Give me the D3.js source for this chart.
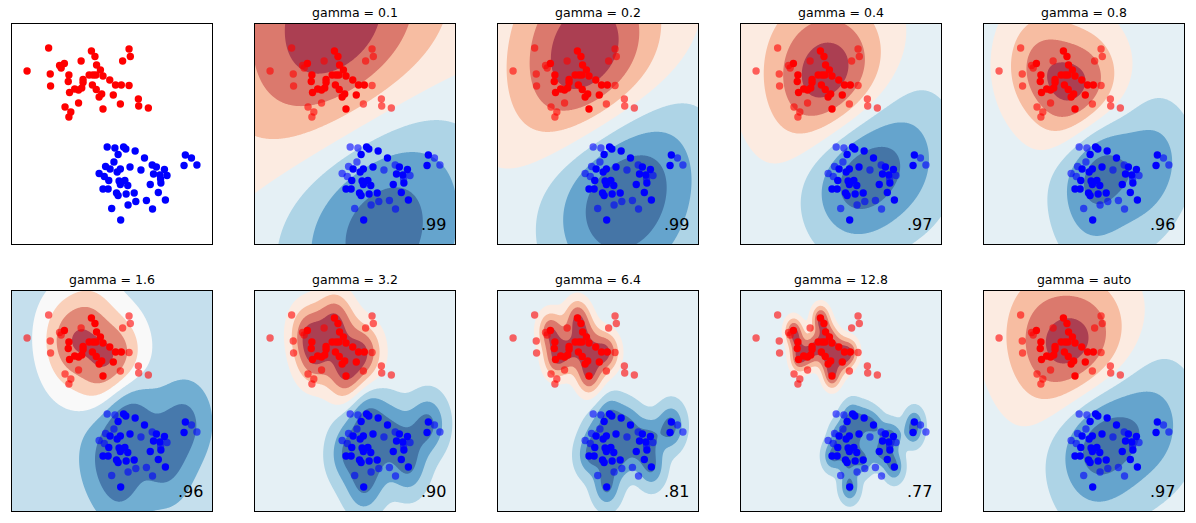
<!DOCTYPE html>
<html><head><meta charset="utf-8">
<script src="https://cdn.jsdelivr.net/npm/d3@7"></script>
<style>body{margin:0;background:#fff}svg{display:block}text{font-family:"DejaVu Sans",sans-serif}</style>
</head><body><svg id="c" width="1196" height="523"></svg>
<script>
// ---- data ----
const redX = [1.19,2.52,3.69,2.63,3.73,2.20,3.49,1.68,1.53,1.58,2.68,0.52,1.24,2.80,1.82,2.45,2.57,2.66,2.88,1.80,2.26,3.09,2.55,3.27,3.45,3.69,1.25,2.22,2.00,2.12,1.84,2.67,2.84,2.76,3.20,2.12,3.42,3.98,3.99,4.29,1.70,2.88,1.88,1.82,2.26];
const redY = [3.95,3.89,3.93,3.78,3.78,3.69,3.69,3.64,3.60,3.55,3.61,3.49,3.43,3.51,3.41,3.41,3.41,3.41,3.39,3.28,3.32,3.31,3.21,3.21,3.21,3.20,3.19,3.15,3.13,3.11,3.06,3.12,3.03,2.97,3.01,2.85,2.83,2.93,2.79,2.75,2.77,2.73,2.67,2.57,3.26];
const redTest = [1,0,1,0,1,1,1,0,1,1,0,1,1,0,0,0,0,0,0,0,0,0,0,0,0,1,1,0,0,0,0,0,0,0,0,1,1,1,1,1,1,0,1,1,0];
const blueX = [3.01,3.25,3.52,3.59,3.88,3.35,4.17,5.44,5.63,3.22,5.40,5.80,2.96,3.10,3.42,3.72,4.06,4.41,4.54,4.79,3.32,2.76,2.92,3.06,4.45,4.65,4.87,3.38,3.56,3.42,3.65,4.35,4.68,4.67,2.88,3.04,3.30,3.35,3.60,3.85,4.60,3.90,4.23,3.66,4.82,3.15,4.42,3.43];
const blueY = [1.97,1.95,1.97,1.93,1.89,1.82,1.75,1.81,1.75,1.67,1.60,1.61,1.58,1.53,1.53,1.57,1.51,1.61,1.57,1.52,1.47,1.44,1.38,1.30,1.43,1.41,1.40,1.29,1.30,1.22,1.20,1.22,1.25,1.33,1.13,1.13,1.05,1.00,1.03,1.05,1.06,0.88,0.90,0.81,0.91,0.74,0.73,0.51];
const blueTest = [1,1,0,0,0,0,0,0,1,1,0,1,1,0,0,0,1,1,0,0,0,1,1,0,0,0,1,0,0,0,0,0,0,1,0,0,0,0,0,0,0,1,1,1,0,1,1,0];
const gammas = [0.1,0.2,0.4,0.8,1.6,3.2,6.4,12.8,0.5];
const gammaLabels = ["0.1","0.2","0.4","0.8","1.6","3.2","6.4","12.8","auto"];
const scores = [".99",".99",".97",".96",".96",".90",".81",".77",".97"];
const rdbuStops = ["#67001f","#b2182b","#d6604d","#f4a582","#fddbc7","#f7f7f7","#d1e5f0","#92c5de","#4393c3","#2166ac","#053061"];

// ---- layout ----
const svg = d3.select("#c");
const PW = 202, PH = 222, colX = c => 11 + c*243, rowY = r => r === 0 ? 23 : 290;
const allX = redX.concat(blueX), allY = redY.concat(blueY);
const xMin = d3.min(allX) - .5, xMax = d3.max(allX) + .5;
const yMin = d3.min(allY) - .5, yMax = d3.max(allY) + .5;
const xs = d3.scaleLinear().domain([xMin, xMax]).range([0, PW]);
const ys = d3.scaleLinear().domain([yMin, yMax]).range([PH, 0]);
const rdbu = d3.scaleLinear().domain(rdbuStops.map((_, i) => i/10)).range(rdbuStops).interpolate(d3.interpolateRgb);
const blend = c => { const o = d3.rgb(c); return d3.rgb(o.r*.8+51, o.g*.8+51, o.b*.8+51).formatHex(); };

const pts = [];
redX.forEach((x,i)=>pts.push({x, y:redY[i], c:-1, test:redTest[i]}));
blueX.forEach((x,i)=>pts.push({x, y:blueY[i], c:1, test:blueTest[i]}));
const train = pts.filter(p=>!p.test);

// RBF SVM (C=1) trained on the training points
function trainSVM(g, C=1){
  const n = train.length, K = [];
  for (let i=0;i<n;i++){ K.push(new Float64Array(n)); for(let j=0;j<n;j++){const dx=train[i].x-train[j].x, dy=train[i].y-train[j].y; K[i][j]=Math.exp(-g*(dx*dx+dy*dy));}}
  const y = train.map(p=>p.c), a = new Float64Array(n), G = new Float64Array(n).fill(-1);
  for (let it=0; it<200000; it++){
    let gmax=-Infinity, gmin=Infinity, ii=-1, jj=-1;
    for (let t=0;t<n;t++){
      const v = -y[t]*G[t];
      const up = (y[t]===1 && a[t]<C) || (y[t]===-1 && a[t]>0);
      const low = (y[t]===-1 && a[t]<C) || (y[t]===1 && a[t]>0);
      if (up && v>gmax){gmax=v; ii=t;}
      if (low && v<gmin){gmin=v; jj=t;}
    }
    if (gmax-gmin < 1e-4) break;
    const i=ii, j=jj, Qij=y[i]*y[j]*K[i][j];
    const oi=a[i], oj=a[j];
    if (y[i]!==y[j]){
      let q=2+2*Qij; if(q<=0) q=1e-12;
      const delta=(-G[i]-G[j])/q, diff=a[i]-a[j];
      a[i]+=delta; a[j]+=delta;
      if(diff>0){ if(a[j]<0){a[j]=0;a[i]=diff;} } else { if(a[i]<0){a[i]=0;a[j]=-diff;} }
      if(diff>0){ if(a[i]>C){a[i]=C;a[j]=C-diff;} } else { if(a[j]>C){a[j]=C;a[i]=C+diff;} }
    } else {
      let q=2-2*Qij; if(q<=0) q=1e-12;
      const delta=(G[i]-G[j])/q, sum=a[i]+a[j];
      a[i]-=delta; a[j]+=delta;
      if(sum>C){ if(a[i]>C){a[i]=C;a[j]=sum-C;} } else { if(a[j]<0){a[j]=0;a[i]=sum;} }
      if(sum>C){ if(a[j]>C){a[j]=C;a[i]=sum-C;} } else { if(a[i]<0){a[i]=0;a[j]=sum;} }
    }
    const di=a[i]-oi, dj=a[j]-oj;
    for (let k=0;k<n;k++) G[k] += y[i]*y[k]*K[i][k]*di + y[j]*y[k]*K[j][k]*dj;
  }
  let ub=Infinity, lb=-Infinity, sf=0, nf=0;
  for (let i=0;i<n;i++){
    const yG=y[i]*G[i];
    if (a[i]>=C){ if(y[i]===-1) ub=Math.min(ub,yG); else lb=Math.max(lb,yG); }
    else if (a[i]<=0){ if(y[i]===1) ub=Math.min(ub,yG); else lb=Math.max(lb,yG); }
    else { nf++; sf+=yG; }
  }
  const rho = nf>0 ? sf/nf : (ub+lb)/2;
  const sv = [];
  for (let i=0;i<n;i++) if (a[i]>1e-9) sv.push({x:train[i].x, y:train[i].y, w:a[i]*y[i]});
  return (px,py)=>{ let s=-rho; for (const v of sv){const dx=px-v.x, dy=py-v.y; s+=v.w*Math.exp(-g*(dx*dx+dy*dy));} return s; };
}

// classic matplotlib MaxNLocator(8) contour levels
function pyFloorDiv(v, w){
  let mod = v % w; let div = (v - mod)/w;
  if (mod && ((w<0) !== (mod<0))) { mod += w; div -= 1; }
  let fl = Math.floor(div); if (div - fl > 0.5) fl += 1; return fl;
}
function mplLevels(vmin, vmax, nbins=8){
  const steps = [1,1.5,2,2.5,3,4,5,6,8,10];
  const scale = Math.pow(10, Math.floor(Math.log10((vmax-vmin)/nbins)));
  const raw = (vmax-vmin)/nbins/scale;
  let step = 1, bvmin = vmin, bvmax = vmax;
  for (const s of steps){
    if (s < raw) continue;
    step = s*scale;
    bvmin = step*pyFloorDiv(vmin, step);
    bvmax = bvmin + step*nbins;
    if (bvmax >= vmax) break;
  }
  const extra = pyFloorDiv(bvmax - vmax, step);
  return d3.range(nbins - extra + 1).map(k => k*step + bvmin);
}

const h = 0.02;
const nx = Math.floor((xMax-xMin)/h)+1, ny = Math.floor((yMax-yMin)/h)+1;

function drawPoints(g, alphaTest){
  const order = pts.filter(p=>!p.test).concat(pts.filter(p=>p.test));
  g.selectAll("circle").data(order).join("circle")
    .attr("cx", p=>xs(p.x)).attr("cy", p=>ys(p.y)).attr("r", 3.7)
    .attr("fill", p=>p.c===1 ? "#0000ff" : "#ff0000")
    .attr("fill-opacity", p=>p.test ? alphaTest : 1);
}

function panel(idx){
  const col = idx % 5, row = Math.floor(idx/5);
  const g = svg.append("g").attr("transform", `translate(${colX(col)},${rowY(row)})`);
  const cid = "clip"+idx;
  g.append("clipPath").attr("id", cid).append("rect").attr("width", PW).attr("height", PH);
  const inner = g.append("g").attr("clip-path", `url(#${cid})`);
  if (idx > 0){
    const k = idx-1, f = trainSVM(gammas[k]);
    const vals = new Float64Array(nx*ny);
    for (let j=0;j<ny;j++) for (let i=0;i<nx;i++) vals[i+j*nx] = f(xMin+i*h, yMin+j*h);
    const levels = mplLevels(d3.min(vals), d3.max(vals));
    const nb = levels.length-1;
    const bandColor = b => blend(rdbu((b+0.5)/nb));
    inner.append("rect").attr("width", PW).attr("height", PH).attr("fill", bandColor(0));
    const proj = d3.geoTransform({point(px,py){ this.stream.point(xs(xMin+(px-0.5)*h), ys(yMin+(py-0.5)*h)); }});
    const path = d3.geoPath(proj);
    const cont = d3.contours().size([nx,ny]).thresholds(levels.slice(1,-1))(vals);
    inner.selectAll("path.band").data(cont).join("path").attr("class","band")
      .attr("d", path).attr("fill", (d,i)=>bandColor(i+1));
    g.append("text").attr("x", PW/2).attr("y", -6).attr("text-anchor","middle")
      .attr("font-size", 12.5).text("gamma = " + gammaLabels[k]);
    drawPoints(inner, 0.6);
    g.append("text").attr("x", xs(xMax-.3)).attr("y", ys(yMin+.3)).attr("text-anchor","end")
      .attr("font-size", 16).text(scores[k]);
  } else {
    drawPoints(inner, 1);
  }
  g.append("rect").attr("x",0.5).attr("y",0.5).attr("width",PW-1).attr("height",PH-1)
    .attr("fill","none").attr("stroke","#000").attr("stroke-width",1);
}
for (let i=0;i<10;i++) panel(i);
</script></body></html>
